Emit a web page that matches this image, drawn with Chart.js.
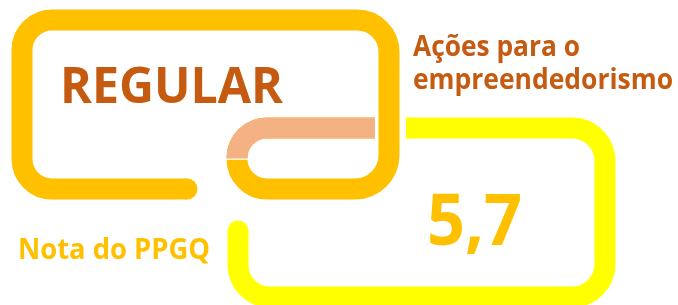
<!DOCTYPE html>
<html>
<head>
<meta charset="utf-8">
<script src="https://cdn.jsdelivr.net/npm/chart.js@4"></script>
<style>
  html, body { margin: 0; padding: 0; background: #ffffff; }
  canvas { display: block; }
</style>
</head>
<body>
<canvas id="chart" width="678" height="305"></canvas>
<script>
// data
const ratingLabel = ['REGULAR'];
const topicLines = ['Ações para o', 'empreendedorismo'];
const scoreLabel = ['Nota do PPGQ'];
const score = [5.7];

// chain links, in scale units (0..678 x 0..305)
const goldLink = {
    pts: [[187, 189], [22, 189], [22, 20], [389, 20], [389, 189], [237, 189], [237, 128], [375, 128]],
    radii: [30, 30, 32, 34, 30, 30],
    width: 21
};
const yellowLink = {
    pts: [[406, 128], [605, 128], [605, 297], [238, 297], [238, 231]],
    radii: [33, 33, 32],
    width: 21
};

function drawLink(ctx, chart, link) {
    const x = chart.scales.x, y = chart.scales.y;
    const p = link.pts.map(q => [x.getPixelForValue(q[0]), y.getPixelForValue(q[1])]);
    ctx.beginPath();
    ctx.moveTo(p[0][0], p[0][1]);
    for (let i = 1; i < p.length - 1; i++) {
        ctx.arcTo(p[i][0], p[i][1], p[i + 1][0], p[i + 1][1], link.radii[i - 1]);
    }
    ctx.lineTo(p[p.length - 1][0], p[p.length - 1][1]);
    ctx.lineWidth = link.width;
    ctx.lineCap = 'butt';
    ctx.stroke();
    return p;
}

function fitText(ctx, text, x, base, capH, width, color) {
    const size = capH / 0.714;
    ctx.font = 'bold ' + size + 'px "Open Sans"';
    const w = ctx.measureText(text).width;
    ctx.save();
    ctx.translate(x, base);
    ctx.scale(width / w, 1);
    ctx.fillStyle = color;
    ctx.textBaseline = 'alphabetic';
    ctx.fillText(text, 0, 0);
    ctx.restore();
}

const chainPlugin = {
    id: 'chain',
    afterDraw(chart) {
        const ctx = chart.ctx;
        ctx.save();

        // yellow link
        ctx.strokeStyle = '#FFFF00';
        ctx.fillStyle = '#FFFF00';
        let p = drawLink(ctx, chart, yellowLink);
        let end = p[p.length - 1];
        ctx.beginPath();
        ctx.arc(end[0], end[1], yellowLink.width / 2, 0, Math.PI * 2);
        ctx.fill();

        // gold link
        ctx.strokeStyle = '#FFC000';
        ctx.fillStyle = '#FFC000';
        p = drawLink(ctx, chart, goldLink);
        ctx.beginPath();
        ctx.arc(p[0][0], p[0][1], goldLink.width / 2, 0, Math.PI * 2);
        ctx.fill();

        // salmon upper part of the hook
        ctx.save();
        ctx.beginPath();
        ctx.rect(215, 100, 161, 58.5);
        ctx.clip();
        ctx.strokeStyle = '#F4B183';
        drawLink(ctx, chart, goldLink);
        ctx.restore();
        ctx.fillStyle = '#ffffff';
        ctx.fillRect(220, 158.5, 35, 1.3);

        // texts
        fitText(ctx, ratingLabel[0], 60, 103, 36, 223, '#C55A11');
        fitText(ctx, topicLines[0], 413, 56, 20, 167, '#C55A11');
        fitText(ctx, topicLines[1], 413, 89, 20, 260, '#C55A11');
        fitText(ctx, scoreLabel[0], 18, 259, 20, 192, '#FFC000');
        fitText(ctx, score[0].toFixed(1).replace('.', ','), 427, 245, 51, 95, '#FFC000');

        ctx.restore();
    }
};

new Chart(document.getElementById('chart').getContext('2d'), {
    type: 'scatter',
    data: { datasets: [{ label: scoreLabel[0], data: [] }] },
    options: {
        responsive: false,
        animation: false,
        layout: { padding: 0 },
        plugins: { legend: { display: false }, tooltip: { enabled: false } },
        scales: {
            x: { display: false, min: 0, max: 678 },
            y: { display: false, min: 0, max: 305, reverse: true }
        }
    },
    plugins: [chainPlugin]
});
</script>
</body>
</html>
